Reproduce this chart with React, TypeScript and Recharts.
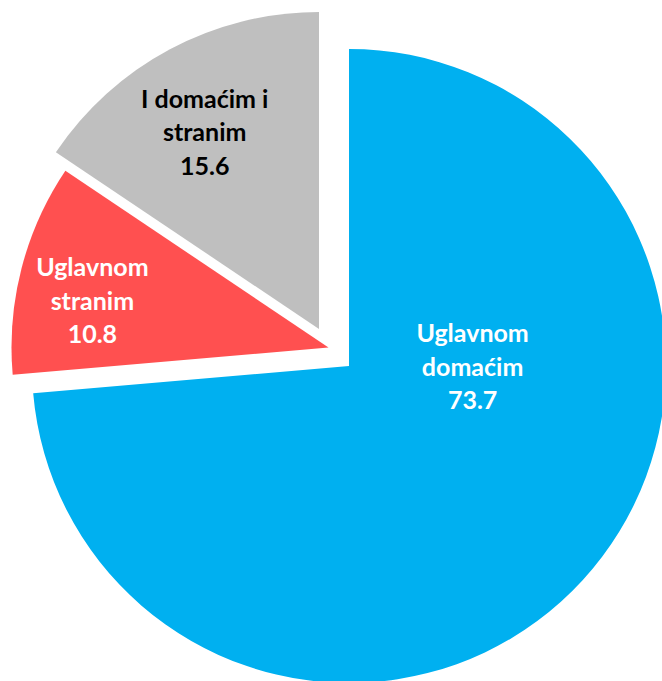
import React from 'react';
import { PieChart, Pie, Cell } from 'recharts';

const categories = ['Uglavnom domaćim', 'Uglavnom stranim', 'I domaćim i stranim'];
const shares = [73.7, 10.8, 15.6];
const labelLines = [
  ['Uglavnom', 'domaćim'],
  ['Uglavnom', 'stranim'],
  ['I domaćim i', 'stranim'],
];

const colors = ['#00B0F0', '#FF5050', '#BFBFBF'];
const textColors = ['#FFFFFF', '#FFFFFF', '#000000'];

// each slice is pulled out of the pie on its own, like the Excel original
const sliceCenters = [
  { cx: 349, cy: 366 },
  { cx: 328.5, cy: 347.5 },
  { cx: 319, cy: 329 },
];
// label distance (share of radius) and angle nudge from the slice middle
const labelRadius = [0.39, 0.76, 0.72];
const labelShift = [42.6, 3, 2];

const RADIUS = 317;
const RAD = Math.PI / 180;

const data = categories.map((name, i) => ({ name, value: shares[i] }));

const makeLabel = (k: number) => (props: any) => {
  const { cx, cy, midAngle, index, value } = props;
  if (index !== k) return null;
  const a = (midAngle + labelShift[k]) * RAD;
  const r = RADIUS * labelRadius[k];
  const x = cx + r * Math.cos(a);
  const y = cy - r * Math.sin(a);
  const lines = [...labelLines[k], value.toFixed(1)];
  const step = 33.5;
  return (
    <text
      x={x}
      y={y}
      fill={textColors[k]}
      textAnchor="middle"
      dominantBaseline="central"
      style={{ fontFamily: 'Lato, sans-serif', fontWeight: 700, fontSize: 25 }}
    >
      {lines.map((t, j) => (
        <tspan key={j} x={x} y={y + (j - 1) * step}>
          {t}
        </tspan>
      ))}
    </text>
  );
};

export default function App() {
  return (
    <div style={{ position: 'absolute', left: 0, top: 0, background: '#fff' }}>
      <PieChart width={662} height={681} margin={{ top: 0, right: 0, bottom: 0, left: 0 }}>
        {sliceCenters.map((c, k) => (
          <Pie
            key={k}
            data={data}
            dataKey="value"
            nameKey="name"
            cx={c.cx}
            cy={c.cy}
            outerRadius={RADIUS}
            startAngle={90}
            endAngle={-270}
            stroke="none"
            labelLine={false}
            label={makeLabel(k)}
            isAnimationActive={false}
          >
            {data.map((d, i) => (
              <Cell key={d.name} fill={i === k ? colors[i] : 'transparent'} stroke="none" />
            ))}
          </Pie>
        ))}
      </PieChart>
    </div>
  );
}
